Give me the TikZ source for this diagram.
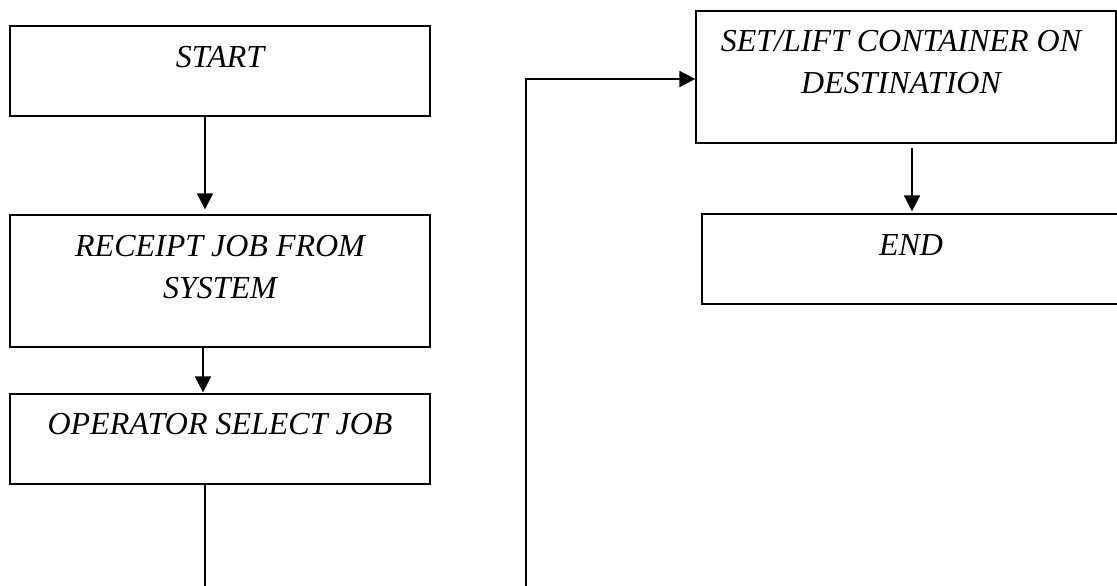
\documentclass[tikz,border=0pt]{standalone}
\usepackage{fontspec}
\setmainfont{Liberation Serif}
\usetikzlibrary{arrows.meta,calc}
\begin{document}
\begin{tikzpicture}[x=1pt,y=-1pt,
  flowbox/.style={draw, line width=1.3pt, inner sep=0pt, minimum width=420pt},
  flowtext/.style={anchor=north, inner sep=0pt, align=center,
    font=\itshape\fontsize{32}{42}\selectfont},
  flowarrow/.style={line width=1.8pt, -{Triangle[length=16pt,width=16pt]}},
  flowline/.style={line width=1.8pt}]
\useasboundingbox (0,0) rectangle (1117,586);

% left column
\node[flowbox, minimum height=90pt]  (start)    at (220,71)  {};
\node[flowbox, minimum height=132pt] (receipt)  at (220,281) {};
\node[flowbox, minimum height=90pt]  (operator) at (220,439) {};
% right column
\node[flowbox, minimum height=132pt] (setlift)  at (906,77)  {};
\node[flowbox, minimum height=90pt, minimum width=418pt] (finish) at (911,259) {};

% box captions
\node[flowtext] (startT)    at ($(start.north)+(0,21)$)    {START};
\node[flowtext] (receiptT)  at ($(receipt.north)+(0,21)$)  {RECEIPT JOB FROM\\SYSTEM};
\node[flowtext] (operatorT) at ($(operator.north)+(0,20)$) {OPERATOR SELECT JOB};
\node[flowtext] (setliftT)  at ($(setlift.north)+(-5,20)$) {SET/LIFT CONTAINER ON\\DESTINATION};
\node[flowtext] (finishT)   at ($(finish.north)+(0,21)$)   {END};

% connectors
\draw[flowarrow] ($(start.south)+(-15,0)$) -- ($(receipt.north)+(-15,-5)$);
\draw[flowarrow] ($(receipt.south)+(-17,0)$) -- ($(operator.north)+(-17,-1)$);
\coordinate (loopA) at (205,620);
\coordinate (loopB) at (526,620);
\draw[flowarrow] ($(operator.south)+(-15,0)$) -- (loopA) -- (loopB) |- ($(setlift.west)+(0,2)$);
\draw[flowarrow] ($(setlift.south)+(6,4)$) -- ($(finish.north)+(1,-2)$);
\end{tikzpicture}
\end{document}
